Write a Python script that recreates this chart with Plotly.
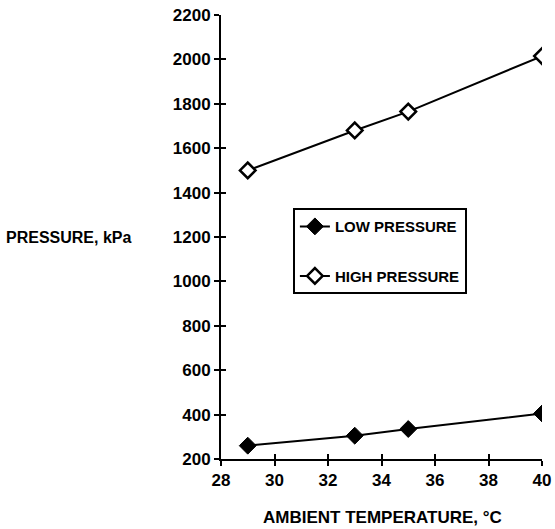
import plotly.graph_objects as go

temps = [29, 33, 35, 40]
low_pressure = [260, 305, 335, 405]
high_pressure = [1500, 1680, 1765, 2015]

x_ticks = [28, 30, 32, 34, 36, 38, 40]
y_ticks = [200, 400, 600, 800, 1000, 1200, 1400, 1600, 1800, 2000, 2200]

FONT = "Liberation Sans"
fig = go.Figure()
fig.add_trace(go.Scatter(
    x=temps, y=low_pressure, mode="lines+markers", name="LOW PRESSURE",
    legendgroup="low",
    line=dict(color="black", width=2),
    marker=dict(symbol="diamond", size=13, color="black", line=dict(color="black", width=1)),
))
fig.add_trace(go.Scatter(
    x=temps, y=high_pressure, mode="lines+markers", name="HIGH PRESSURE",
    legendgroup="high",
    line=dict(color="black", width=2),
    marker=dict(symbol="diamond", size=12, color="white", line=dict(color="black", width=2.5)),
))

axis_common = dict(showgrid=False, zeroline=False, showline=True, linecolor="black",
                   linewidth=2, ticklen=5, tickwidth=2, tickcolor="black", automargin=False)
tickfont = dict(family=FONT, size=17, color="black", weight="bold")
fig.update_layout(
    width=555, height=529,
    margin=dict(l=221, r=13, t=15, b=70, autoexpand=False),
    paper_bgcolor="white", plot_bgcolor="white",
    font=dict(family=FONT, size=16, color="black"),
    showlegend=True,
    legend=dict(x=0.224, y=0.565, xanchor="left", yanchor="top",
                bgcolor="white", bordercolor="black", borderwidth=2,
                font=dict(family=FONT, size=15, color="black", weight="bold"),
                tracegroupgap=27, traceorder="grouped", itemwidth=30,
                entrywidth=148, entrywidthmode="pixels"),
    xaxis=dict(range=[28, 40], tickvals=x_ticks, ticks="outside", tickfont=tickfont,
               ticklabeloverflow="allow", **axis_common),
    yaxis=dict(range=[200, 2200], tickvals=y_ticks, ticks="outside", tickfont=tickfont,
               ticklabeloverflow="allow", **axis_common),
    xaxis2=dict(range=[28, 40], tickvals=x_ticks, ticks="inside", overlaying="x",
                showticklabels=False, **axis_common),
    yaxis2=dict(range=[200, 2200], tickvals=y_ticks, ticks="inside", overlaying="y",
                showticklabels=False, **axis_common),
)
# invisible trace to activate the secondary (inside-tick) axes
fig.add_trace(go.Scatter(x=[temps[0]], y=[low_pressure[0]], xaxis="x2", yaxis="y2",
                         mode="markers", marker=dict(opacity=0), showlegend=False,
                         hoverinfo="skip"))

fig.add_annotation(text="PRESSURE, kPa", xref="paper", yref="y", x=0, y=1200,
                   xanchor="right", yanchor="middle", xshift=-88, showarrow=False,
                   font=dict(family=FONT, size=16, color="black", weight="bold"))
fig.add_annotation(text="AMBIENT TEMPERATURE, °C", xref="paper", yref="paper", x=0.503, y=0,
                   xanchor="center", yanchor="middle", yshift=-58, showarrow=False,
                   font=dict(family=FONT, size=17, color="black", weight="bold"))

fig.write_html("out.html", config={"displayModeBar": False},
               post_script="document.body.style.margin='0';")
